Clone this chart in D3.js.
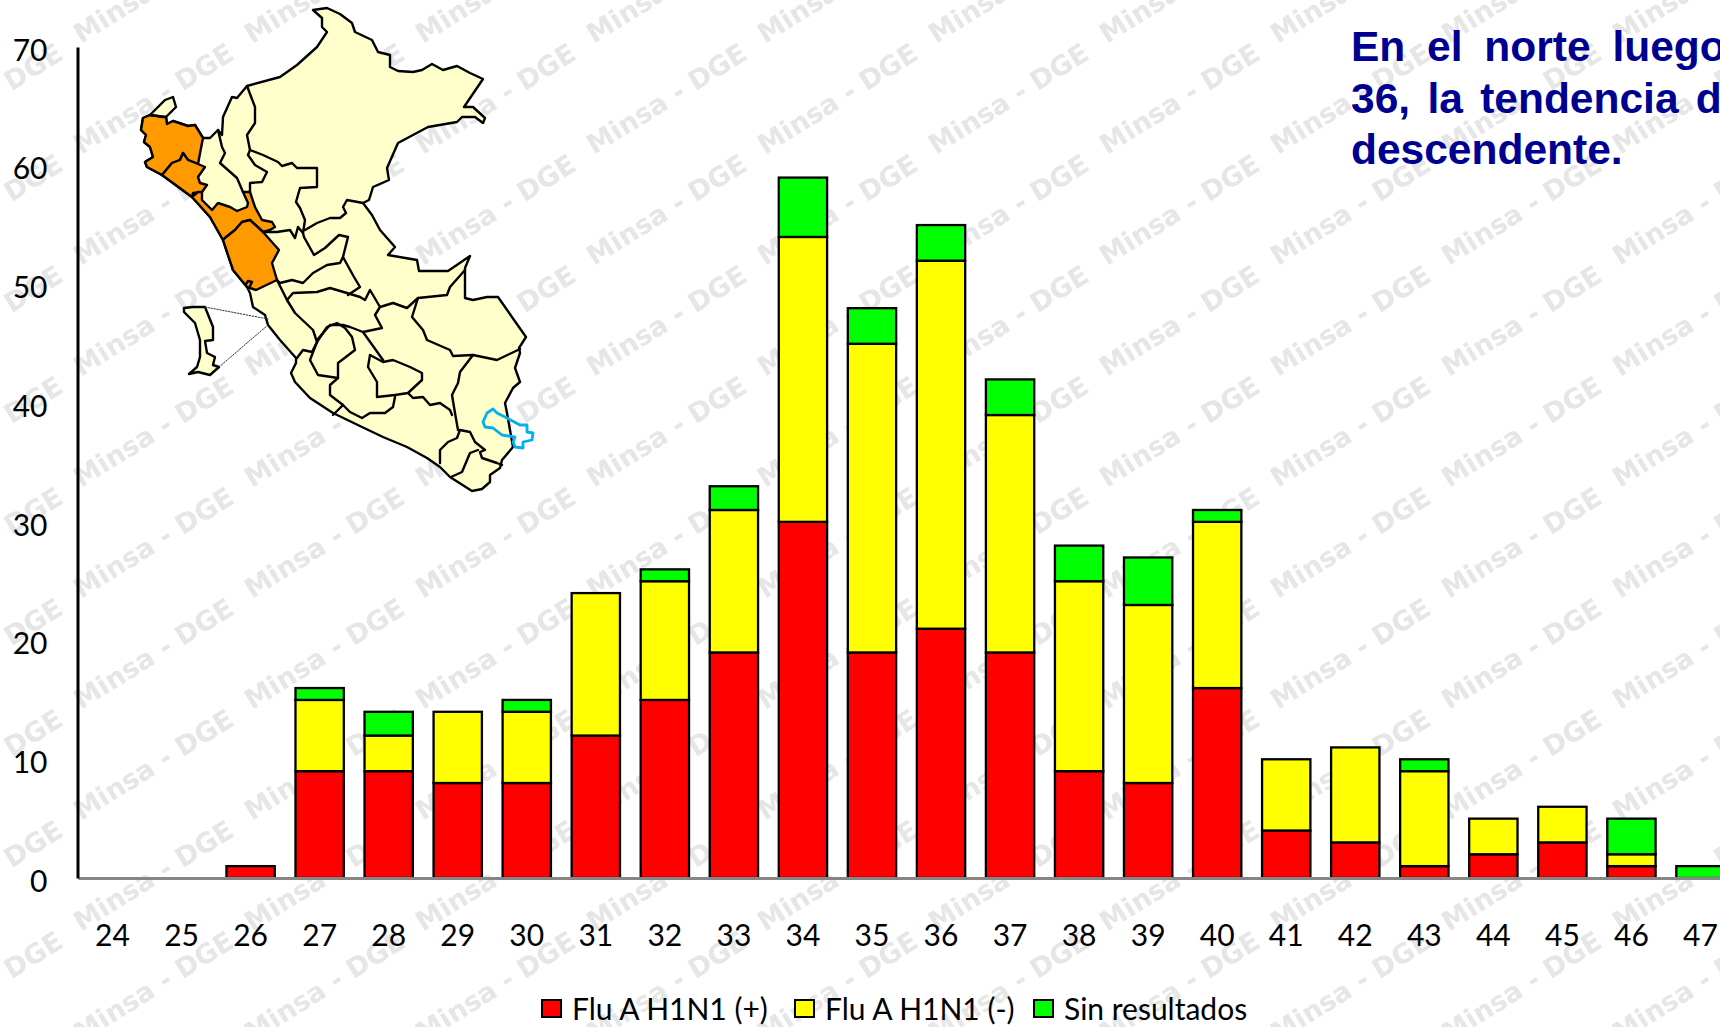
<!DOCTYPE html>
<html>
<head>
<meta charset="utf-8">
<title>Flu A H1N1</title>
<script src="https://cdn.jsdelivr.net/npm/d3@7"></script>
<style>
html, body { margin: 0; padding: 0; background: #fff; overflow: hidden; }
svg { display: block; }
text { font-family: Lato, "Noto Sans", sans-serif; fill: #000; }
.nota { font-family: "Liberation Sans", Arial, sans-serif; font-weight: bold; font-size: 42.5px; fill: #000090; }
.marca { font-family: "DejaVu Sans", sans-serif; font-weight: bold; font-size: 27px; fill: #e6e6e6; }
</style>
</head>
<body>
<svg id="chart" width="1720" height="1027"></svg>
<script>
// datos
var semanas = [24,25,26,27,28,29,30,31,32,33,34,35,36,37,38,39,40,41,42,43,44,45,46,47];
var positivos = [0,0,1,9,9,8,8,12,15,19,30,19,21,19,9,8,16,4,3,1,2,3,1,0];
var negativos = [0,0,0,6,3,6,6,12,10,12,24,26,31,20,16,15,14,6,8,8,3,3,1,0];
var sinResultado = [0,0,0,1,2,0,1,0,1,2,5,3,3,3,3,4,1,0,0,1,0,0,3,1];
var ticksY = [0,10,20,30,40,50,60,70];
var nombres = ["Flu A H1N1 (+)", "Flu A H1N1 (-)", "Sin resultados"];
var colores = ["#ff0000", "#ffff00", "#00ff00"];
var lineasNota = [
	{ texto: "En el norte luego", y: 60.5, espacio: 10 },
	{ texto: "36, la tendencia de", y: 112.5, espacio: 5.5 },
	{ texto: "descendente.", y: 163.5, espacio: 0 }
];

// contornos del mapa del Peru (ilustracion, no son datos)
var mapaPais = [[313,10],[327,8],[340,14],[352,23],[355,32],[372,40],[378,52],[390,55],[390,67],[398,71],[413,72],[422,70],[432,64],[443,70],[457,66],[470,73],[483,79],[464,107],[473,107],[485,118],[483,123],[475,117],[462,117],[457,122],[428,127],[398,143],[387,168],[389,180],[373,187],[369,200],[363,203],[372,215],[380,230],[395,247],[388,255],[417,260],[419,271],[448,271],[470,256],[465,268],[465,298],[473,300],[487,297],[498,297],[526,337],[519,348],[520,353],[515,368],[520,382],[513,388],[505,403],[507,413],[513,447],[502,460],[500,468],[490,475],[490,482],[482,489],[472,491],[450,477],[440,467],[427,458],[407,447],[383,437],[362,427],[333,413],[310,398],[295,382],[291,373],[296,363],[296,358],[280,340],[268,325],[265,315],[253,307],[250,293],[247,287],[233,270],[223,240],[210,217],[192,197],[162,175],[147,167],[145,162],[153,157],[150,147],[144,142],[146,135],[141,130],[143,118],[150,115],[165,100],[173,97],[176,107],[166,117],[167,124],[173,121],[188,126],[195,125],[203,138],[210,138],[218,130],[222,135],[223,117],[232,97],[237,98],[247,86],[280,77],[297,65],[317,47],[327,32],[322,27],[322,18]];
var mapaIsla = [[184,308],[193,307],[205,307],[213,327],[213,340],[205,341],[207,353],[215,357],[213,365],[219,367],[210,375],[198,372],[189,374],[197,367],[200,357],[200,340],[195,323],[184,312]];
var mapaNaranja = [
	[[150,115],[166,117],[167,124],[173,121],[188,126],[195,125],[203,138],[202,143],[198,164],[188,160],[183,153],[180,160],[172,163],[162,175],[147,167],[145,162],[153,157],[150,147],[144,142],[146,135],[141,130],[143,118]],
	[[162,175],[172,163],[180,160],[183,153],[188,160],[198,164],[205,167],[198,177],[200,183],[207,185],[202,192],[193,193],[192,197]],
	[[192,197],[198,192],[202,192],[202,200],[212,210],[218,203],[230,207],[237,211],[247,207],[248,203],[243,192],[250,192],[255,207],[262,220],[272,222],[275,227],[270,230],[263,232],[250,220],[242,222],[235,230],[225,238],[223,240],[210,217]],
	[[225,238],[235,230],[242,222],[250,220],[263,232],[279,250],[272,263],[277,280],[256,290],[247,287],[233,270],[223,240]]
];
var mapaFronteras = [
	[[150,115],[163,117],[166,117]],
	[[247,86],[255,107],[255,123],[247,135],[250,150],[263,155],[278,162],[282,166],[292,163],[297,168],[317,168],[317,187],[300,188],[296,202],[300,208],[305,220],[303,233]],
	[[305,230],[317,223],[330,218],[340,218],[346,213],[343,207],[347,200],[363,203]],
	[[218,130],[222,147],[225,153],[220,163],[237,178],[243,192]],
	[[250,150],[248,155],[255,165],[267,172],[262,182],[250,183],[250,192]],
	[[263,232],[277,232],[290,230],[295,238],[298,227],[303,233],[304,237],[314,255],[325,248],[339,235],[348,237],[343,257],[354,277],[360,287],[348,295]],
	[[277,280],[280,283],[292,280],[303,283],[313,273],[327,265],[340,263],[343,257]],
	[[287,300],[293,293],[317,292],[330,288],[347,293],[360,297],[365,300],[370,290],[380,307]],
	[[277,280],[287,300],[295,313],[313,330],[317,342],[310,360],[318,375],[338,378],[330,385],[330,395],[343,405],[333,415]],
	[[317,340],[330,325],[343,325],[350,327],[363,332],[382,328],[375,315],[380,307],[393,303],[407,308],[418,298],[447,295],[450,287],[465,270]],
	[[418,298],[412,317],[423,330],[427,340],[450,350],[453,356],[473,355],[497,360],[520,349]],
	[[473,355],[460,372],[458,383],[452,395],[455,413],[458,430]],
	[[370,355],[368,367],[377,382],[377,397],[395,395],[408,393],[422,380],[422,373],[410,367],[393,360],[383,362],[370,355]],
	[[363,332],[383,360]],
	[[408,393],[413,398],[423,397],[430,405],[440,403],[450,410],[452,415]],
	[[395,397],[393,407],[385,413],[370,413],[362,418],[350,412],[343,405]],
	[[297,358],[303,350],[312,352],[317,342]],
	[[338,378],[338,363],[355,350],[352,337],[345,328],[337,323],[327,327],[317,342]],
	[[440,463],[440,450],[448,442],[457,438],[460,430],[470,432],[475,442],[485,450],[480,452],[482,458],[497,463],[502,465]],
	[[451,477],[462,472],[470,453],[478,450]],
	[[246,284],[248,281],[252,282],[250,286]]
];
var mapaPunteada = [[[205,307],[268,319]], [[219,367],[268,325]]];
var mapaAzul = [[487,413],[493,409],[497,413],[507,418],[520,425],[527,425],[527,432],[533,433],[532,440],[523,442],[523,448],[515,447],[513,442],[515,437],[502,435],[493,428],[485,427],[483,422]];

var svg = d3.select("#chart");
var width = 1720;
var height = 1027;

// marca de agua en mosaico, va debajo de todo
var patron = svg.append("defs").append("pattern")
	.attr("id", "marcaAgua")
	.attr("patternUnits", "userSpaceOnUse")
	.attr("x", 73).attr("y", 43)
	.attr("width", 171).attr("height", 111);
patron.append("text").attr("class", "marca")
	.attr("transform", "translate(8,112) rotate(-32)")
	.text("Minsa - DGE");
svg.append("rect").attr("width", width).attr("height", height).attr("fill", "url(#marcaAgua)");

// escalas
var x = d3.scaleBand().domain(semanas).range([78, 1735]).paddingInner(0.3).paddingOuter(0.15);
var y = d3.scaleLinear().domain([0, 70]).range([878, 47]);

// barras apiladas
var filas = semanas.map(function(s, i) {
	return { semana: s, a: positivos[i], b: negativos[i], c: sinResultado[i] };
});
var pila = d3.stack().keys(["a", "b", "c"])(filas);
svg.append("g").selectAll("g").data(pila).enter().append("g")
	.attr("fill", function(d, i) { return colores[i]; })
	.selectAll("rect")
	.data(function(d) { return d.filter(function(v) { return v[1] > v[0]; }); })
	.enter().append("rect")
	.attr("x", function(d) { return x(d.data.semana); })
	.attr("y", function(d) { return y(d[1]); })
	.attr("width", x.bandwidth())
	.attr("height", function(d) { return y(d[0]) - y(d[1]); })
	.attr("stroke", "#000")
	.attr("stroke-width", 2.3);

// ejes
var ejeX = svg.append("g").attr("transform", "translate(0,878)")
	.call(d3.axisBottom(x).tickSize(0).tickPadding(47));
ejeX.select(".domain").attr("stroke", "#868686").attr("stroke-width", 3);
ejeX.selectAll("text").attr("font-size", 30).style("font-family", "Lato, sans-serif");

var ejeY = svg.append("g").attr("transform", "translate(77.5,0)")
	.call(d3.axisLeft(y).tickValues(ticksY).tickSize(0).tickPadding(30));
ejeY.select(".domain").attr("stroke", "#000").attr("stroke-width", 3);
ejeY.selectAll("text").attr("font-size", 30).attr("dy", "0.44em").style("font-family", "Lato, sans-serif");

// mapa
var linea = d3.line();
var mapa = svg.append("g").attr("stroke-linejoin", "round").attr("stroke-linecap", "round");
mapa.append("path").attr("d", linea(mapaPais) + "Z").attr("fill", "#ffffcc").attr("stroke", "#000").attr("stroke-width", 2.4);
mapa.append("path").attr("d", linea(mapaIsla) + "Z").attr("fill", "#ffffcc").attr("stroke", "#000").attr("stroke-width", 2.4);
mapa.selectAll(".naranja").data(mapaNaranja).enter().append("path").attr("class", "naranja")
	.attr("d", function(d) { return linea(d) + "Z"; })
	.attr("fill", "#ff9900").attr("stroke", "#000").attr("stroke-width", 2.4);
mapa.selectAll(".frontera").data(mapaFronteras).enter().append("path").attr("class", "frontera")
	.attr("d", linea).attr("fill", "none").attr("stroke", "#000").attr("stroke-width", 2.4);
mapa.selectAll(".punteada").data(mapaPunteada).enter().append("path").attr("class", "punteada")
	.attr("d", linea).attr("fill", "none").attr("stroke", "#333").attr("stroke-width", 1).attr("stroke-dasharray", "1.5,1.5");
mapa.append("path").attr("d", linea(mapaAzul) + "Z").attr("fill", "none").attr("stroke", "#00b0f0").attr("stroke-width", 2.8);

// nota de texto, se corta en el borde derecho igual que el original
svg.selectAll(".nota").data(lineasNota).enter().append("text").attr("class", "nota")
	.attr("x", 1351)
	.attr("y", function(d) { return d.y; })
	.attr("word-spacing", function(d) { return d.espacio; })
	.text(function(d) { return d.texto; });

// leyenda
var posLeyenda = [542, 795, 1034];
var leyenda = svg.append("g").selectAll("g").data(nombres).enter().append("g")
	.attr("transform", function(d, i) { return "translate(" + posLeyenda[i] + ",1000)"; });
leyenda.append("rect").attr("width", 19).attr("height", 17)
	.attr("fill", function(d, i) { return colores[i]; })
	.attr("stroke", "#000").attr("stroke-width", 2);
leyenda.append("text").attr("x", 30).attr("y", 20).attr("font-size", 30).text(function(d) { return d; });
</script>
</body>
</html>
